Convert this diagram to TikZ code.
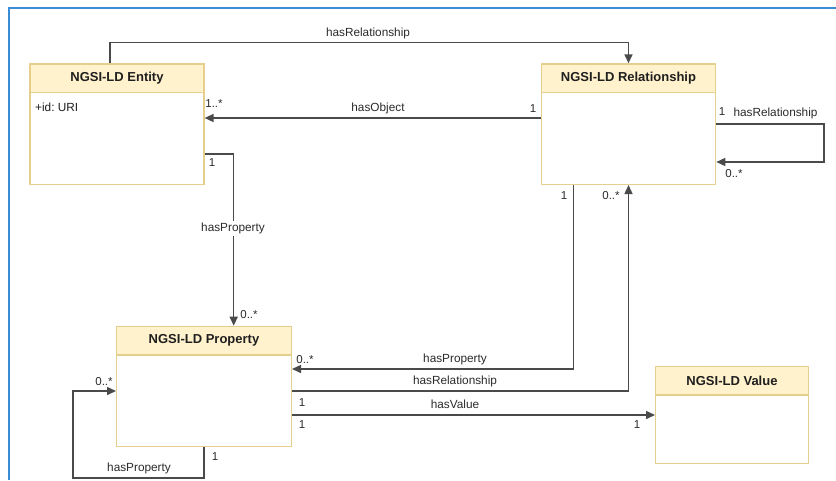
\documentclass[tikz,border=0pt]{standalone}
\usepackage{fontspec}
\setmainfont{Liberation Sans}
\usetikzlibrary{arrows.meta,calc}
\frenchspacing
\definecolor{frameblue}{HTML}{3A8DD5}
\definecolor{boxline}{HTML}{E6CF8C}
\definecolor{boxhead}{HTML}{FFF2CC}
\definecolor{wire}{HTML}{4A4A4A}
\definecolor{txt}{HTML}{2A2A2A}
\begin{document}
\begin{tikzpicture}[x=1pt,y=-1pt,
  classbody/.style={draw=boxline,line width=1.3pt,fill=white,anchor=north west,inner sep=0pt},
  classhead/.style={draw=boxline,line width=1.3pt,fill=boxhead,anchor=north west,inner sep=0pt,
    minimum height=28.6pt,font=\fontsize{13}{15}\selectfont\bfseries,text=black!88},
  conn/.style={draw=wire,line width=1.5pt,-{Triangle[length=9pt,width=8pt]}},
  lbl/.style={font=\fontsize{11.8}{13}\selectfont,text=txt,inner sep=1pt},
  mult/.style={font=\fontsize{11.5}{13}\selectfont,text=txt,inner sep=1pt}]
\useasboundingbox (0,0) rectangle (836,480);

% frame
\draw[frameblue,line width=1.3pt] (9,480) -- (9,8) -- (836,8);

% classes
\node[classbody,minimum width=174pt,minimum height=120.4pt] (ent) at (29.3,63.3) {};
\node[classhead,minimum width=174pt] (enth) at (29.3,63.3) {NGSI-LD Entity};
\node[classbody,minimum width=174.3pt,minimum height=120.4pt] (rel) at (540.7,63.3) {};
\node[classhead,minimum width=174.3pt] (relh) at (540.7,63.3) {NGSI-LD Relationship};
\node[classbody,minimum width=174.7pt,minimum height=120pt] (prop) at (116,325.7) {};
\node[classhead,minimum width=174.7pt] (proph) at (116,325.7) {NGSI-LD Property};
\node[classbody,minimum width=152.7pt,minimum height=97.3pt] (val) at (655,365.7) {};
\node[classhead,minimum width=152.7pt] (valh) at (655,365.7) {NGSI-LD Value};
\node[lbl,anchor=west,text=black!88] (entid) at (34,107.7) {+id: URI};

% Entity -> Relationship (over the top)
\draw[conn] ([xshift=80.7pt]ent.north west) -- ++(0,-21) -| (relh.north);
\node[lbl] (l1) at (368,33) {hasRelationship};

% Relationship -> Entity (hasObject)
\draw[conn] (rel.west |- 0,118) -- (ent.east |- 0,118);
\node[lbl] (l2) at (378,108) {hasObject};
\node[mult] (m2a) at (214,104) {1..*};
\node[mult] (m2b) at (533,109) {1};

% Relationship self-loop
\draw[conn] (rel.east |- 0,124) -| (824,143) |- (rel.east |- 0,162);
\node[mult] (m3a) at (722,112) {1};
\node[lbl] (l3) at (775.5,113) {hasRelationship};
\node[mult] (m3b) at (734,174) {0..*};

% Entity -> Property
\draw[conn] (ent.east |- 0,154) -| ([xshift=29.7pt]proph.north);
\node[lbl,fill=white,inner sep=2pt] (l4) at (233,228) {hasProperty};
\node[mult] (m4a) at (212,163) {1};
\node[mult] (m4b) at (249,315) {0..*};

% Relationship -> Property
\draw[conn] ([xshift=33pt]rel.south west) |- (prop.east |- 0,369);
\node[mult] (m5a) at (564,196) {1};
\node[mult] (m5b) at (305,360) {0..*};
\node[lbl] (l5) at (455,359) {hasProperty};

% Property -> Relationship
\draw[conn] (prop.east |- 0,391) -| (rel.south);
\node[mult] (m6a) at (611,196) {0..*};
\node[lbl] (l6) at (455,381) {hasRelationship};
\node[mult] (m6b) at (302,403) {1};

% Property -> Value
\draw[conn] (prop.east |- 0,415) -- (val.west |- 0,415);
\node[lbl] (l7) at (455,404) {hasValue};
\node[mult] (m7a) at (302,425) {1};
\node[mult] (m7b) at (637,425) {1};

% Property self-loop
\draw[conn] (prop.south) |- (73,478) |- (prop.west |- 0,391);
\node[mult] (m8a) at (104,381.5) {0..*};
\node[lbl] (l8) at (139,468) {hasProperty};
\node[mult] (m8b) at (215,457) {1};
\end{tikzpicture}
\end{document}
